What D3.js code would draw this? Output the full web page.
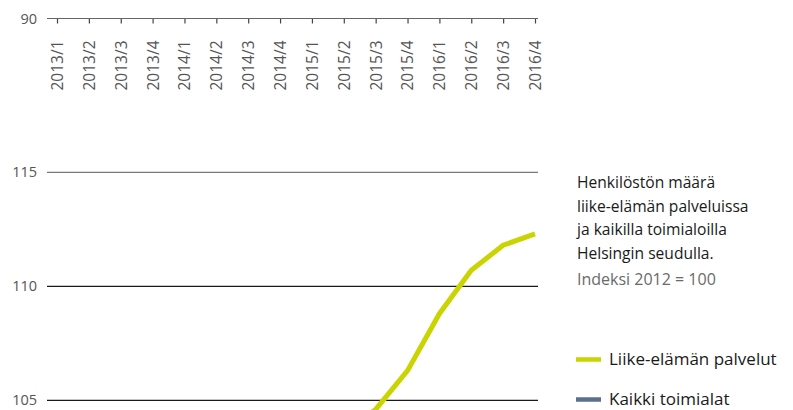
<!DOCTYPE html>
<html><head><meta charset="utf-8">
<script src="https://cdn.jsdelivr.net/npm/d3@7"></script>
<style>
html,body{margin:0;padding:0;background:#fff;overflow:hidden}
svg{display:block;font-family:"Open Sans",sans-serif}
</style></head>
<body>
<script>
const quarters = ["2013/1","2013/2","2013/3","2013/4","2014/1","2014/2","2014/3","2014/4","2015/1","2015/2","2015/3","2015/4","2016/1","2016/2","2016/3","2016/4"];
const liikeElama = [101.4,101.9,101.7,102.2,101.8,102.3,102.0,102.6,102.9,103.6,104.6,106.3,108.8,110.7,111.8,112.3];
const kaikki = [100.2,100.5,100.1,100.4,99.8,100.1,99.7,100.0,99.7,100.1,100.4,100.7,101.2,101.6,101.8,102.0];
const yTicks = [90,95,100,105,110,115];
const titleLines = ["Henkilöstön määrä","liike-elämän palveluissa","ja kaikilla toimialoilla","Helsingin seudulla."];
const subtitle = "Indeksi 2012 = 100";
const seriesNames = ["Liike-elämän palvelut","Kaikki toimialat"];
const seriesColors = ["#c9d400","#5b6f8e"];

const W = 793, H = 410;
const svg = d3.select("body").append("svg").attr("width", W).attr("height", H);

const x = d3.scalePoint().domain(quarters).range([57, 535]);
const y = d3.scaleLinear().domain([90, 115]).range([742.3, 172.3]);

// gridlines
const grid = svg.append("g").attr("class","grid");
yTicks.filter(t => t > 90).forEach(t => {
  grid.append("line").attr("x1", 47).attr("x2", 538).attr("y1", y(t)).attr("y2", y(t))
    .attr("stroke", t === 115 ? "#777" : "#1a1a1a").attr("stroke-width", 1.2);
  grid.append("text").attr("x", 37).attr("y", y(t)).attr("dy", "0.35em")
    .attr("text-anchor","end").attr("font-size", 14.5).attr("fill", "#555").text(t);
});

// x axis (drawn at top, labelled with the 90 baseline)
const axisY = 18.5;
const xAxis = svg.append("g").attr("transform", `translate(0,${axisY})`)
  .call(d3.axisBottom(x).tickSize(5).tickSizeOuter(0));
xAxis.attr("font-size", null).attr("font-family", null);
xAxis.select(".domain").remove();
xAxis.append("line").attr("x1", 47).attr("x2", 538).attr("stroke", "#666").attr("stroke-width", 1.2);
xAxis.selectAll(".tick line").attr("stroke", "#444").attr("stroke-width", 1.2);
xAxis.selectAll(".tick text")
  .style("font-family", "'Open Sans',sans-serif").style("font-size", "15.5px").attr("fill", "#555")
  .attr("transform", "rotate(-90)").attr("text-anchor", "end")
  .attr("x", -22).attr("y", 0).attr("dy", "0.35em");
svg.append("text").attr("x", 37).attr("y", axisY).attr("dy", "0.35em")
  .attr("text-anchor","end").attr("font-size", 14.5).attr("fill", "#555").text(yTicks[0]);

// lines
const line = d3.line().x((d,i) => x(quarters[i])).y(d => y(d));
svg.append("path").datum(kaikki).attr("d", line).attr("fill","none")
  .attr("stroke", seriesColors[1]).attr("stroke-width", 5);
svg.append("path").datum(liikeElama).attr("d", line).attr("fill","none")
  .attr("stroke", seriesColors[0]).attr("stroke-width", 5);

// title
const tg = svg.append("g");
titleLines.forEach((t, i) => {
  tg.append("text").attr("x", 577).attr("y", 188 + i * 23.5)
    .attr("font-size", 15.6).attr("font-weight", 500).attr("fill", "#1a1a1a").text(t);
});
tg.append("text").attr("x", 577).attr("y", 285).attr("font-size", 16)
  .attr("font-weight", 400).attr("fill", "#6a6a6a").text(subtitle);

// legend
seriesNames.forEach((n, i) => {
  const ly = 359.5 + i * 40;
  svg.append("line").attr("x1", 576).attr("x2", 601).attr("y1", ly).attr("y2", ly)
    .attr("stroke", seriesColors[i]).attr("stroke-width", 4.5);
  svg.append("text").attr("x", 609).attr("y", ly).attr("dy", "0.35em")
    .attr("font-size", 17).attr("fill", "#1a1a1a").text(n);
});
</script>
</body></html>
